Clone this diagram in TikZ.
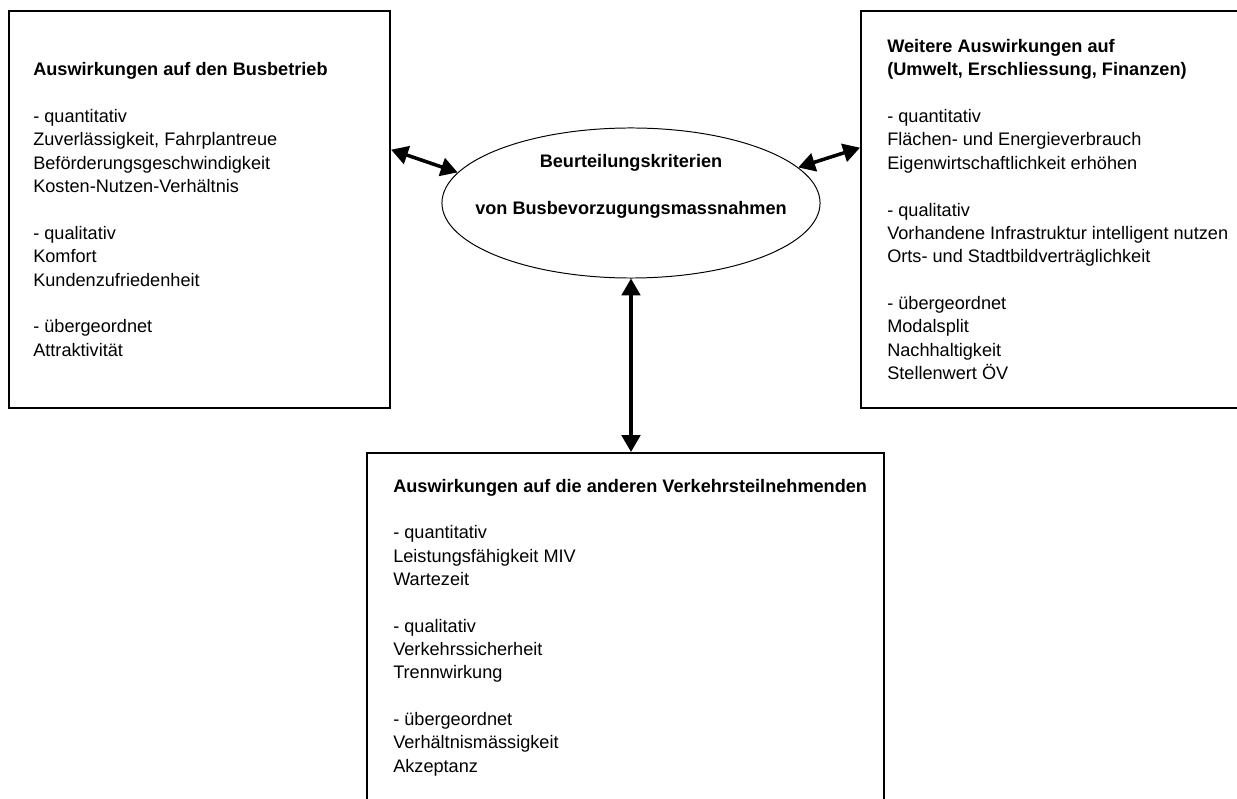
\documentclass[tikz,border=0pt]{standalone}
\usepackage{fontspec}
\setmainfont{Liberation Sans}
\usetikzlibrary{calc,arrows.meta,shapes.geometric}

\begin{document}
\begin{tikzpicture}[x=0.025cm,y=-0.025cm,
		panel/.style={draw,line width=1.4pt,inner sep=0pt,anchor=north west},
		paneltext/.style={anchor=west,align=left,inner sep=0pt,font=\fontsize{12.9pt}{16.6pt}\selectfont},
		link/.style={{Triangle[length=0.42cm,width=0.46cm]}-{Triangle[length=0.42cm,width=0.46cm]},line width=2.5pt}]
			\def\gap{16.6pt}
			\useasboundingbox (0,0) rectangle (1237,799);
			\coordinate (L) at (8,10);
			\coordinate (R) at (860,10);
			\coordinate (U) at (366,452);
			\coordinate (M) at (631,203);
			\node[panel,minimum width=9.525cm,minimum height=9.925cm] (busbox) at (L) {};
			\node[panel,minimum width=9.75cm,minimum height=9.925cm] (umweltbox) at (R) {};
			\node[panel,minimum width=12.925cm,minimum height=8.725cm] (verkehrbox) at (U) {};
			\node[draw,ellipse,line width=0.7pt,minimum width=9.45cm,minimum height=3.75cm,inner sep=0pt] (crit) at (M) {};
			\node[paneltext] (bustext) at ($(busbox.west)+(25,0)$) {\textbf{Auswirkungen auf den Busbetrieb}\\[\gap]
				- quantitativ\\ Zuverlässigkeit, Fahrplantreue\\ Beförderungsgeschwindigkeit\\ Kosten-Nutzen-Verhältnis\\[\gap]
				- qualitativ\\ Komfort\\ Kundenzufriedenheit\\[\gap]
				- übergeordnet\\ Attraktivität};
			\node[paneltext] (umwelttext) at ($(umweltbox.west)+(27,0)$) {\textbf{Weitere Auswirkungen auf}\\ \textbf{(Umwelt, Erschliessung, Finanzen)}\\[\gap]
				- quantitativ\\ Flächen- und Energieverbrauch\\ Eigenwirtschaftlichkeit erhöhen\\[\gap]
				- qualitativ\\ Vorhandene Infrastruktur intelligent nutzen\\ Orts- und Stadtbildverträglichkeit\\[\gap]
				- übergeordnet\\ Modalsplit\\ Nachhaltigkeit\\ Stellenwert ÖV};
			\node[paneltext] (verkehrtext) at ($(verkehrbox.west)+(27,0)$) {\textbf{Auswirkungen auf die anderen Verkehrsteilnehmenden}\\[\gap]
				- quantitativ\\ Leistungsfähigkeit MIV\\ Wartezeit\\[\gap]
				- qualitativ\\ Verkehrssicherheit\\ Trennwirkung\\[\gap]
				- übergeordnet\\ Verhältnismässigkeit\\ Akzeptanz};
			\node[align=center,inner sep=0pt,font=\bfseries\fontsize{12.9pt}{16.6pt}\selectfont] (crittext) at ($(crit)+(0,-16.5)$) {Beurteilungskriterien\\[\gap]von Busbevorzugungsmassnahmen};
			\draw[link] ($(busbox.north east)!0.35!(busbox.south east)$) -- (crit.170);
			\draw[link] (crit.12) -- ($(umweltbox.north west)!0.345!(umweltbox.south west)$);
			\draw[link] (crit.south) -- (crit.south |- verkehrbox.north);
		\end{tikzpicture}
\end{document}
